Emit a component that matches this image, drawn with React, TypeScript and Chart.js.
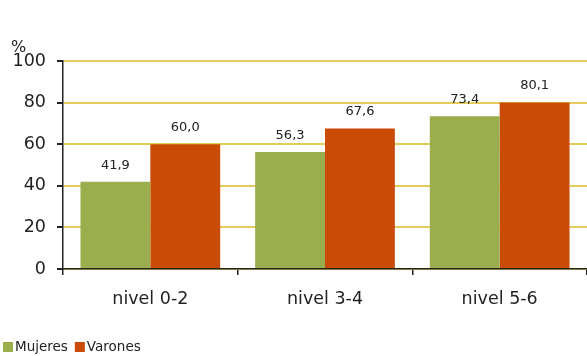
import React, { useEffect, useRef } from "react";
import { Chart, registerables } from "chart.js";

Chart.register(...registerables);

const categories = ["nivel 0-2", "nivel 3-4", "nivel 5-6"];
const mujeres = [41.9, 56.3, 73.4];
const varones = [60.0, 67.6, 80.1];
const seriesNames = ["Mujeres", "Varones"];
const seriesColors = ["#9bae4e", "#c94b05"];
const yTicks = [0, 20, 40, 60, 80, 100];

const FONT = "'DejaVu Sans', Verdana, sans-serif";

const fmt = (v: number) => v.toFixed(1).replace(".", ",");

const decorations = {
  id: "decorations",
  afterDatasetsDraw(chart: any) {
    const ctx = chart.ctx;
    ctx.save();
    // value labels above each bar
    ctx.font = `13px ${FONT}`;
    ctx.fillStyle = "#222";
    ctx.textAlign = "center";
    ctx.textBaseline = "bottom";
    chart.data.datasets.forEach((ds: any, i: number) => {
      const meta = chart.getDatasetMeta(i);
      meta.data.forEach((bar: any, j: number) => {
        ctx.fillText(fmt(ds.data[j]), bar.x, bar.y - 10);
      });
    });
    // unit label
    ctx.font = `16px ${FONT}`;
    ctx.textAlign = "left";
    ctx.textBaseline = "middle";
    ctx.fillStyle = "#222";
    ctx.fillText("%", 11, 48);
    // legend
    ctx.font = `13.5px ${FONT}`;
    let x = 3;
    const y = 347;
    chart.data.datasets.forEach((ds: any) => {
      ctx.fillStyle = ds.backgroundColor;
      ctx.fillRect(x, y - 5, 10, 10);
      x += 12;
      ctx.fillStyle = "#222";
      ctx.fillText(ds.label, x, y);
      x += ctx.measureText(ds.label).width + 7;
    });
    ctx.restore();
  },
};

export default function App() {
  const ref = useRef<HTMLCanvasElement>(null);
  useEffect(() => {
    const chart = new Chart(ref.current!, {
      type: "bar",
      data: {
        labels: categories,
        datasets: [
          { label: seriesNames[0], data: mujeres, backgroundColor: seriesColors[0] },
          { label: seriesNames[1], data: varones, backgroundColor: seriesColors[1] },
        ],
      },
      options: {
        animation: false,
        responsive: false,
        layout: { padding: { top: 61, left: 0, right: 0, bottom: 0 } },
        datasets: { bar: { categoryPercentage: 0.8, barPercentage: 1.0 } },
        plugins: { legend: { display: false }, tooltip: { enabled: false } },
        scales: {
          x: {
            grid: {
              drawOnChartArea: false,
              offset: true,
              tickColor: "#222",
              tickLength: 6,
              lineWidth: 1.5,
            },
            border: { color: "#222", width: 1.5 },
            ticks: { color: "#222", font: { family: FONT, size: 17.5 }, padding: 14 },
            afterFit(scale: any) {
              scale.height = 87;
            },
          },
          y: {
            min: 0,
            max: 100,
            afterBuildTicks(scale: any) {
              scale.ticks = yTicks.map((v) => ({ value: v }));
            },
            grid: {
              color: "#e5cc58",
              lineWidth: 2,
              tickColor: "#222",
              tickLength: 6,
            },
            border: { color: "#222", width: 1.5 },
            ticks: { color: "#222", font: { family: FONT, size: 17.5 }, padding: 11 },
            afterFit(scale: any) {
              scale.width = 63;
            },
          },
        },
      },
      plugins: [decorations],
    });
    return () => chart.destroy();
  }, []);
  return (
    <div style={{ position: "fixed", left: 0, top: 0, width: 587, height: 356, background: "#fff" }}>
      <canvas ref={ref} width={587} height={356} style={{ width: 587, height: 356 }} />
    </div>
  );
}
